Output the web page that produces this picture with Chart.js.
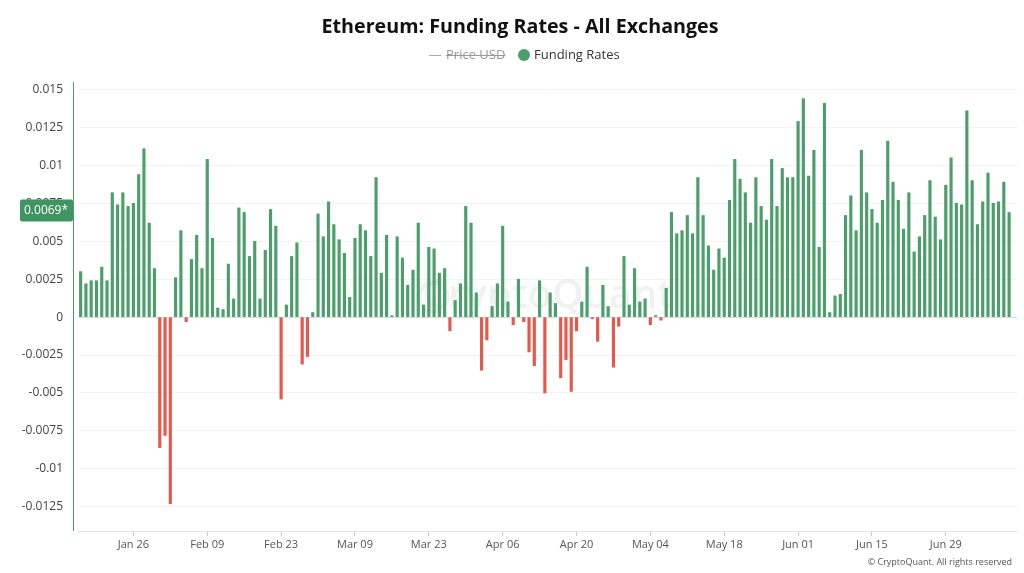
<!DOCTYPE html>
<html>
<head>
<meta charset="utf-8">
<script src="https://cdn.jsdelivr.net/npm/chart.js@4.4.1/dist/chart.umd.min.js"></script>
<style>
  html, body { margin: 0; padding: 0; background: #ffffff; }
  #wrap { width: 1024px; height: 573px; position: relative; }
</style>
</head>
<body>
<div id="wrap"><canvas id="c" width="1024" height="573"></canvas></div>
<script>
// ---- data ----
const startDate = '2025-01-16';
const slotCount = 178; // daily categories (last slot has no value)
const tickLabels = ['Jan 26','Feb 09','Feb 23','Mar 09','Mar 23','Apr 06','Apr 20','May 04','May 18','Jun 01','Jun 15','Jun 29'];
const yTicks = [0.015, 0.0125, 0.01, 0.0075, 0.005, 0.0025, 0, -0.0025, -0.005, -0.0075, -0.01, -0.0125];
const fundingRates = [
  0.0030, 0.0022, 0.0024, 0.0024, 0.0033, 0.0024, 0.0082, 0.0074, 0.0082, 0.0073,
  0.0075, 0.0094, 0.0111, 0.0062, 0.0032, -0.0086, -0.0078, -0.0123, 0.0026, 0.0057,
  -0.0003, 0.0038, 0.0054, 0.0032, 0.0104, 0.0052, 0.0006, 0.0005, 0.0035, 0.0012,
  0.0072, 0.0069, 0.0040, 0.0050, 0.0012, 0.0044, 0.0071, 0.0060, -0.0054, 0.0008,
  0.0040, 0.0049, -0.0031, -0.0026, 0.0003, 0.0068, 0.0053, 0.0076, 0.0061, 0.0051,
  0.0042, 0.0013, 0.0052, 0.0061, 0.0057, 0.0040, 0.0092, 0.0029, 0.0054, 0.0001,
  0.0053, 0.0039, 0.0021, 0.0031, 0.0062, 0.0008, 0.0046, 0.0045, 0.0029, 0.0032,
  -0.0009, 0.0011, 0.0022, 0.0073, 0.0062, 0.0016, -0.0035, -0.0015, 0.0007, 0.0022,
  0.0060, 0.0010, -0.0005, 0.0025, -0.0003, -0.0023, -0.0032, 0.0024, -0.0050, 0.0016,
  0.0009, -0.0040, -0.0028, -0.0049, -0.0009, 0.0010, 0.0033, -0.0001, -0.0016, 0.0021,
  0.0007, -0.0033, -0.0006, 0.0040, 0.0008, 0.0032, 0.0010, 0.0012, -0.0005, 0.0001,
  -0.0002, 0.0019, 0.0069, 0.0055, 0.0057, 0.0067, 0.0055, 0.0092, 0.0067, 0.0047,
  0.0031, 0.0045, 0.0039, 0.0077, 0.0104, 0.0091, 0.0082, 0.0062, 0.0092, 0.0073,
  0.0064, 0.0104, 0.0073, 0.0098, 0.0092, 0.0092, 0.0129, 0.0144, 0.0093, 0.0110,
  0.0046, 0.0141, 0.0003, 0.0014, 0.0015, 0.0067, 0.0080, 0.0057, 0.0110, 0.0082,
  0.0071, 0.0062, 0.0077, 0.0116, 0.0089, 0.0077, 0.0058, 0.0082, 0.0043, 0.0053,
  0.0067, 0.0090, 0.0066, 0.0051, 0.0087, 0.0105, 0.0075, 0.0074, 0.0136, 0.0090,
  0.0061, 0.0076, 0.0095, 0.0075, 0.0076, 0.0089, 0.0069
];
const priceUsd = []; // hidden series in the reference
const lastLabel = '0.0069*';
const titleText = 'Ethereum: Funding Rates - All Exchanges';

// ---- categories (daily dates) ----
const MONTHS = ['Jan','Feb','Mar','Apr','May','Jun','Jul','Aug','Sep','Oct','Nov','Dec'];
const categories = [];
{
  const d0 = new Date(startDate + 'T00:00:00Z');
  for (let i = 0; i < slotCount; i++) {
    const d = new Date(d0.getTime() + i * 86400000);
    categories.push(MONTHS[d.getUTCMonth()] + ' ' + String(d.getUTCDate()).padStart(2, '0'));
  }
}

const GREEN = '#4c9e6a';
const RED = '#e8574b';
const FONT = "'Open Sans', 'Noto Sans', sans-serif";

const fmt = v => String(parseFloat(Number(v).toFixed(5)));

const extras = {
  id: 'extras',
  beforeDatasetsDraw(chart) {
    const ctx = chart.ctx;
    ctx.save();
    ctx.fillStyle = 'rgba(60,60,90,0.07)';
    ctx.font = "600 40px " + FONT;
    ctx.textAlign = 'center';
    ctx.textBaseline = 'middle';
    ctx.fillText('CryptoQuant', 548, 297);
    ctx.beginPath();
    ctx.lineWidth = 5;
    ctx.strokeStyle = 'rgba(60,60,90,0.07)';
    ctx.arc(433, 297, 14, 0, Math.PI * 2);
    ctx.stroke();
    ctx.restore();
  },
  afterDraw(chart) {
    const ctx = chart.ctx, a = chart.chartArea, y = chart.scales.y;
    ctx.save();
    // title
    ctx.fillStyle = '#111111';
    ctx.font = "700 19.7px " + FONT;
    ctx.textAlign = 'center';
    ctx.textBaseline = 'middle';
    ctx.fillText(titleText, 520, 27);
    // legend: hidden Price USD series (struck through) + Funding Rates
    const ds = chart.data.datasets;
    ctx.font = "13px " + FONT;
    ctx.textAlign = 'left';
    ctx.strokeStyle = '#aaaaaa';
    ctx.lineWidth = 1;
    ctx.beginPath(); ctx.moveTo(429, 55.5); ctx.lineTo(441, 55.5); ctx.stroke();
    ctx.fillStyle = '#999999';
    ctx.fillText(ds[0].label, 446, 55);
    const w0 = ctx.measureText(ds[0].label).width;
    ctx.strokeStyle = '#999999';
    ctx.beginPath(); ctx.moveTo(446, 55.5); ctx.lineTo(446 + w0, 55.5); ctx.stroke();
    ctx.fillStyle = GREEN;
    ctx.beginPath(); ctx.arc(524, 55, 6, 0, Math.PI * 2); ctx.fill();
    ctx.fillStyle = '#333333';
    ctx.fillText(ds[1].label, 534, 55);
    // left green axis line
    ctx.strokeStyle = GREEN;
    ctx.lineWidth = 1;
    ctx.beginPath();
    ctx.moveTo(73.5, a.top);
    ctx.lineTo(73.5, a.bottom);
    ctx.stroke();
    // last value badge
    const v = fundingRates[fundingRates.length - 1];
    const py = y.getPixelForValue(v);
    ctx.fillStyle = '#3f9461';
    const bx = 20, bw = 53, bh = 22, by = py - bh / 2 - 2;
    ctx.beginPath();
    if (ctx.roundRect) ctx.roundRect(bx, by, bw, bh, 2); else ctx.rect(bx, by, bw, bh);
    ctx.fill();
    ctx.fillStyle = '#ffffff';
    ctx.font = "12px " + FONT;
    ctx.textAlign = 'left';
    ctx.textBaseline = 'middle';
    ctx.fillText(lastLabel, bx + 4, by + bh / 2 + 0.5);
    // copyright
    ctx.fillStyle = '#555';
    ctx.font = "9px " + FONT;
    ctx.textAlign = 'right';
    ctx.fillText('\u00A9 CryptoQuant. All rights reserved', 1012, 562);
    ctx.restore();
  }
};

new Chart(document.getElementById('c'), {
  type: 'bar',
  data: {
    labels: categories,
    datasets: [
      {
        type: 'line',
        label: 'Price USD',
        data: priceUsd,
        hidden: true,
        borderColor: '#999999',
        borderWidth: 1
      },
      {
        label: 'Funding Rates',
        data: fundingRates,
        backgroundColor: fundingRates.map(v => v < 0 ? RED : GREEN),
        borderWidth: 0,
        barThickness: 2.5
      }
    ]
  },
  plugins: [extras],
  options: {
    responsive: false,
    animation: false,
    layout: { padding: { left: 0, right: 7, top: 82, bottom: 0 } },
    plugins: {
      tooltip: { enabled: false },
      title: { display: false },
      legend: { display: false }
    },
    scales: {
      x: {
        type: 'category',
        offset: true,
        grid: {
          display: true,
          offset: false,
          drawOnChartArea: false,
          drawTicks: true,
          tickLength: 5,
          color: ctx => (ctx.tick && tickLabels.includes(categories[ctx.tick.value])) ? '#cccccc' : 'rgba(0,0,0,0)'
        },
        border: { display: true, color: '#e3e3e3' },
        ticks: {
          autoSkip: false,
          maxRotation: 0,
          minRotation: 0,
          padding: 2,
          color: '#555555',
          font: { family: FONT, size: 11 },
          callback(value) {
            const lab = categories[value];
            return tickLabels.includes(lab) ? lab : '';
          }
        },
        afterFit(scale) { scale.height = 42; }
      },
      y: {
        min: -0.0141,
        max: 0.0155,
        afterFit(scale) { scale.width = 78; },
        afterBuildTicks(scale) { scale.ticks = yTicks.map(v => ({ value: v })); },
        grid: {
          drawTicks: false,
          color: ctx => (ctx.tick && ctx.tick.value === 0) ? '#dadada' : '#f3f3f3'
        },
        border: { display: false },
        ticks: {
          padding: 15,
          color: '#444444',
          font: { family: FONT, size: 12 },
          callback: v => fmt(v)
        }
      }
    }
  }
});
</script>
</body>
</html>
